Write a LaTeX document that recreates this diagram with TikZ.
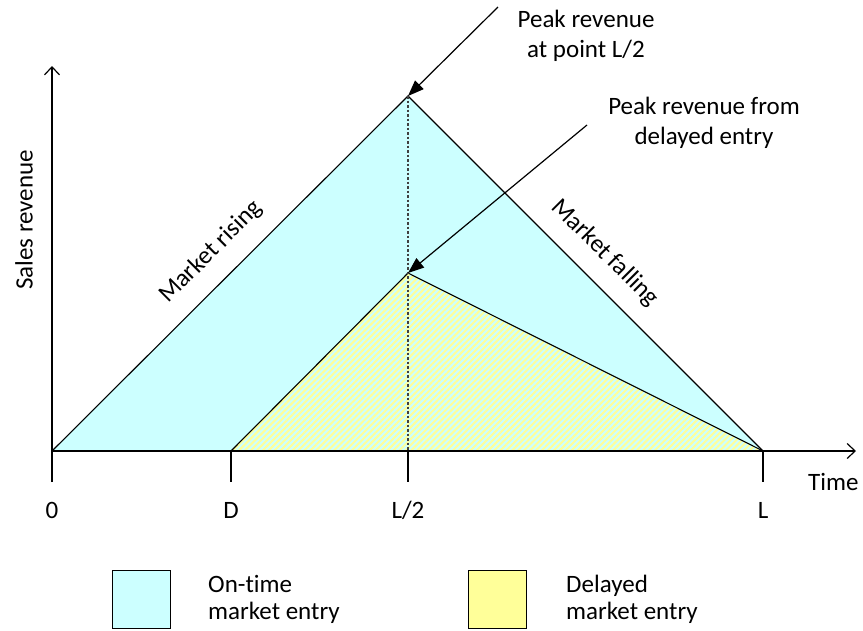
\documentclass[tikz,border=0pt]{standalone}
\usepackage{fontspec}
\setmainfont{Carlito}[Ligatures=NoCommon]
\usetikzlibrary{arrows.meta,patterns.meta}
\definecolor{ontime}{HTML}{CCFFFF}
\definecolor{delayed}{HTML}{FFFF99}
\tikzset{
  lbl/.style={font=\fontsize{25}{30}\selectfont, inner sep=0pt, align=center},
  axis/.style={line width=1.3pt, -{Straight Barb[length=8pt,width=15pt,line width=1.2pt]}},
  edge/.style={line width=1.1pt},
  tick/.style={line width=1.1pt},
  callout/.style={line width=1.2pt, -{Triangle[length=16pt,width=12pt]}},
  keybox/.style={draw, line width=1pt, minimum width=58pt, minimum height=58pt, inner sep=0pt},
}
\begin{document}
\begin{tikzpicture}[x=1pt,y=-1pt]
\useasboundingbox (0,0) rectangle (863,630);
% key points of the revenue curves
\coordinate (O) at (52,451);
\coordinate (D) at (231,451);
\coordinate (H) at (408,451);
\coordinate (L) at (763,451);
\coordinate (P) at (408,96);
\coordinate (Q) at (408,273);
\coordinate (Ytop) at (52,66);
\coordinate (Xend) at (856,451);
% on-time entry area
\fill[ontime] (O) -- (P) -- (L) -- cycle;
% delayed entry area: yellow stripes over cyan
\fill[ontime] (D) -- (Q) -- (L) -- cycle;
\fill[pattern={Lines[angle=45,distance=4.2pt,line width=2pt]}, pattern color=delayed] (D) -- (Q) -- (L) -- cycle;
% outlines
\draw[edge] (O) -- (P) -- (L);
\draw[edge] (D) -- (Q) -- (L);
\draw[line width=1.2pt, dash pattern=on 2.5pt off 2pt, black!75] (P) -- (H);
% ticks below the time axis
\coordinate (Ob) at (52,482);
\coordinate (Db) at (231,482);
\coordinate (Hb) at (408,482);
\coordinate (Lb) at (763,482);
\draw[tick] (O) -- (Ob);
\draw[tick] (D) -- (Db);
\draw[tick] (H) -- (Hb);
\draw[tick] (L) -- (Lb);
% axes
\draw[axis] (Ob) -- (Ytop);
\draw[axis] (O) -- (Xend);
% axis labels
\node[lbl] (t0) at (52,510) {0};
\node[lbl] (tD) at (231,510) {D};
\node[lbl] (tH) at (408,510) {L/2};
\node[lbl] (tL) at (763,510) {L};
\node[lbl, anchor=west] (time) at (808,482) {Time};
\node[lbl, rotate=90] (sales) at (24,220) {Sales revenue};
\node[lbl, rotate=45] (rise) at (211,252) {Market rising};
\node[lbl, rotate=-45] (fall) at (605,253) {Market falling};
% callouts
\node[lbl] (peak) at (586,36) {Peak revenue\\at point L/2};
\node[lbl] (dpeak) at (704,123) {Peak revenue from\\delayed entry};
\coordinate (a1) at (498,7);
\coordinate (a2) at (587,125);
\draw[callout] (a1) -- (P);
\draw[callout] (a2) -- (Q);
% key
\node[keybox, fill=ontime] (k1) at (141,599) {};
\node[keybox, fill=delayed] (k2) at (497.5,599) {};
\node[lbl, anchor=west, align=left, font=\fontsize{25}{27}\selectfont] (k1t) at (208,599) {On-time\\market entry};
\node[lbl, anchor=west, align=left, font=\fontsize{25}{27}\selectfont] (k2t) at (566,599) {Delayed\\market entry};
\end{tikzpicture}
\end{document}
